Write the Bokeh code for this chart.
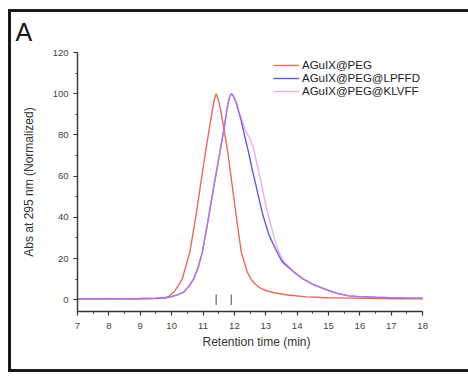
from bokeh.plotting import figure
from bokeh.models import Range1d, FixedTicker, Legend, LegendItem
from bokeh.embed import file_html
from bokeh.resources import INLINE

# ---- data ----
series_names = ["AGuIX@PEG", "AGuIX@PEG@LPFFD", "AGuIX@PEG@KLVFF"]

peg_x = [7, 8, 9, 9.5, 9.75, 9.9, 10.07, 10.2, 10.34, 10.58, 10.76, 10.92, 11.08, 11.2, 11.3,
         11.36, 11.42, 11.48, 11.55, 11.61, 11.79, 11.93, 12.07, 12.22, 12.41, 12.55, 12.67,
         12.84, 13.0, 13.26, 13.7, 14.3, 15.0, 15.7, 16.5, 17.2, 18]
peg_y = [0.5, 0.5, 0.5, 0.6, 0.8, 1.5, 3.7, 6.5, 10.2, 23.1, 39.3, 55.5, 71.7, 83, 92,
         97, 100, 97.5, 93, 88, 71.7, 55.5, 39.3, 23.1, 13.4, 9.5, 7.5,
         5.5, 4.5, 3.4, 2.3, 1.4, 1.0, 0.8, 0.6, 0.5, 0.5]

lpffd_x = [7, 8, 9, 9.5, 9.8, 10.0, 10.2, 10.39, 10.55, 10.71, 10.85, 10.98, 11.17, 11.35,
           11.54, 11.68, 11.78, 11.85, 11.9, 11.96, 12.05, 12.2, 12.32, 12.46, 12.57, 12.68,
           12.8, 12.92, 13.1, 13.3, 13.52, 13.9, 14.2, 14.5, 15.0, 15.3, 15.65, 16.0, 16.5,
           17.0, 17.5, 18]
lpffd_y = [0.5, 0.5, 0.6, 0.7, 1.0, 1.5, 2.5, 3.7, 6.5, 10.2, 16, 23.1, 39.3, 55.5,
           71.7, 84, 94, 98.5, 100, 99, 96, 88, 80, 71, 63, 56,
           48, 40.5, 31.5, 25, 18.5, 13.4, 10, 7.5, 4.5, 3.0, 1.9, 1.5, 1.2,
           1.0, 0.8, 0.7]

klvff_x = [7, 8, 9, 9.5, 9.8, 10.0, 10.2, 10.39, 10.55, 10.71, 10.85, 10.98, 11.17, 11.35,
           11.54, 11.68, 11.78, 11.85, 11.9, 11.96, 12.05, 12.2, 12.36, 12.5, 12.62, 12.72,
           12.86, 13.0, 13.15, 13.28, 13.42, 13.58, 13.9, 14.2, 14.5, 15.0, 15.3, 15.65, 16.0,
           16.5, 17.0, 17.5, 18]
klvff_y = [0.5, 0.5, 0.6, 0.7, 1.0, 1.5, 2.5, 3.7, 6.5, 10.2, 16, 23.1, 39.3, 55.5,
           71.7, 84, 94, 98.5, 100, 99, 96, 89, 82, 78, 73, 66,
           56, 46, 37, 29.5, 23, 18.5, 13.4, 10, 7.5, 4.5, 3.0, 1.9, 1.5,
           1.2, 1.0, 0.8, 0.7]

peak_marks = [11.42, 11.90]

x_ticks = [7, 8, 9, 10, 11, 12, 13, 14, 15, 16, 17, 18]
x_minor = [7.5, 8.5, 9.5, 10.5, 11.5, 12.5, 13.5, 14.5, 15.5, 16.5, 17.5]
y_ticks = [0, 20, 40, 60, 80, 100, 120]
y_minor = [10, 30, 50, 70, 90, 110]

colors = ["#ea6a57", "#5b5bdc", "#e17fe8"]
FONT = "Liberation Sans"

# outer black frame of the figure panel (drawn as the page element's background)
frame_bg = ("linear-gradient(#1a1a1a, #1a1a1a) 8px 9px / 3px 363px no-repeat, "
            "linear-gradient(#1a1a1a, #1a1a1a) 8px 9px / 460px 3px no-repeat, "
            "linear-gradient(#1a1a1a, #1a1a1a) 8px 369px / 460px 3px no-repeat, white")

p = figure(width=468, height=380, x_range=Range1d(7, 18.41), y_range=Range1d(-5.7, 120),
           output_backend="svg", toolbar_location=None,
           min_border_left=77, min_border_right=33, min_border_top=52, min_border_bottom=69,
           styles={"background": frame_bg})
p.xgrid.visible = False
p.ygrid.visible = False
p.outline_line_color = None
p.background_fill_color = "white"
p.border_fill_alpha = 0

p.title.text = "A"
p.title.align = "left"
p.title.offset = -62
p.title.text_font = FONT
p.title.text_font_size = "25px"
p.title.text_font_style = "normal"
p.title.text_color = "#111111"
p.title.standoff = 14

r1 = p.line(peg_x, peg_y, line_color=colors[0], line_width=1.4)
r2 = p.line(lpffd_x, lpffd_y, line_color=colors[1], line_width=1.4)
r3 = p.line(klvff_x, klvff_y, line_color=colors[2], line_width=1.4, line_alpha=0.65)

p.segment(x0=peak_marks, y0=[-2.5] * len(peak_marks), x1=peak_marks, y1=[2.5] * len(peak_marks),
          line_color="#666666", line_width=1.2)

for ax in (p.xaxis[0], p.yaxis[0]):
    ax.axis_line_color = "#333333"
    ax.axis_line_width = 1.4
    ax.major_tick_line_color = "#333333"
    ax.minor_tick_line_color = "#333333"
    ax.major_tick_line_width = 1.2
    ax.minor_tick_line_width = 1.0
    ax.major_tick_in = 0
    ax.major_tick_out = 4
    ax.minor_tick_in = 0
    ax.minor_tick_out = 2
    ax.major_label_text_font = FONT
    ax.major_label_text_font_size = "9.5px"
    ax.major_label_text_color = "#444444"
    ax.axis_label_text_font = FONT
    ax.axis_label_text_font_size = "12px"
    ax.axis_label_text_font_style = "normal"
    ax.axis_label_text_color = "#333333"

p.xaxis[0].ticker = FixedTicker(ticks=x_ticks, minor_ticks=x_minor)
p.yaxis[0].ticker = FixedTicker(ticks=y_ticks, minor_ticks=y_minor)
p.xaxis[0].bounds = (7, 18)
p.xaxis[0].axis_label = "Retention time (min)"
p.yaxis[0].axis_label = "Abs at 295 nm (Normalized)"
p.xaxis[0].major_label_standoff = 7
p.yaxis[0].major_label_standoff = 5
p.xaxis[0].axis_label_standoff = 3
p.yaxis[0].axis_label_standoff = 14

# one legend per row so the rows sit as closely as in the reference
renderers = [r1, r2, r3]
row_offsets = [240.4, 227.1, 213.8]
for name, rend, yoff in zip(series_names, renderers, row_offsets):
    lg = Legend(items=[LegendItem(label=name, renderers=[rend])],
                location=(196, yoff), padding=0, margin=0, spacing=0,
                glyph_width=26, glyph_height=12, label_height=12, label_standoff=3,
                label_text_font=FONT, label_text_font_size="11.5px", label_text_color="#222222",
                background_fill_alpha=0, border_line_color=None)
    p.add_layout(lg)

open("out.html", "w").write(file_html(p, INLINE))
